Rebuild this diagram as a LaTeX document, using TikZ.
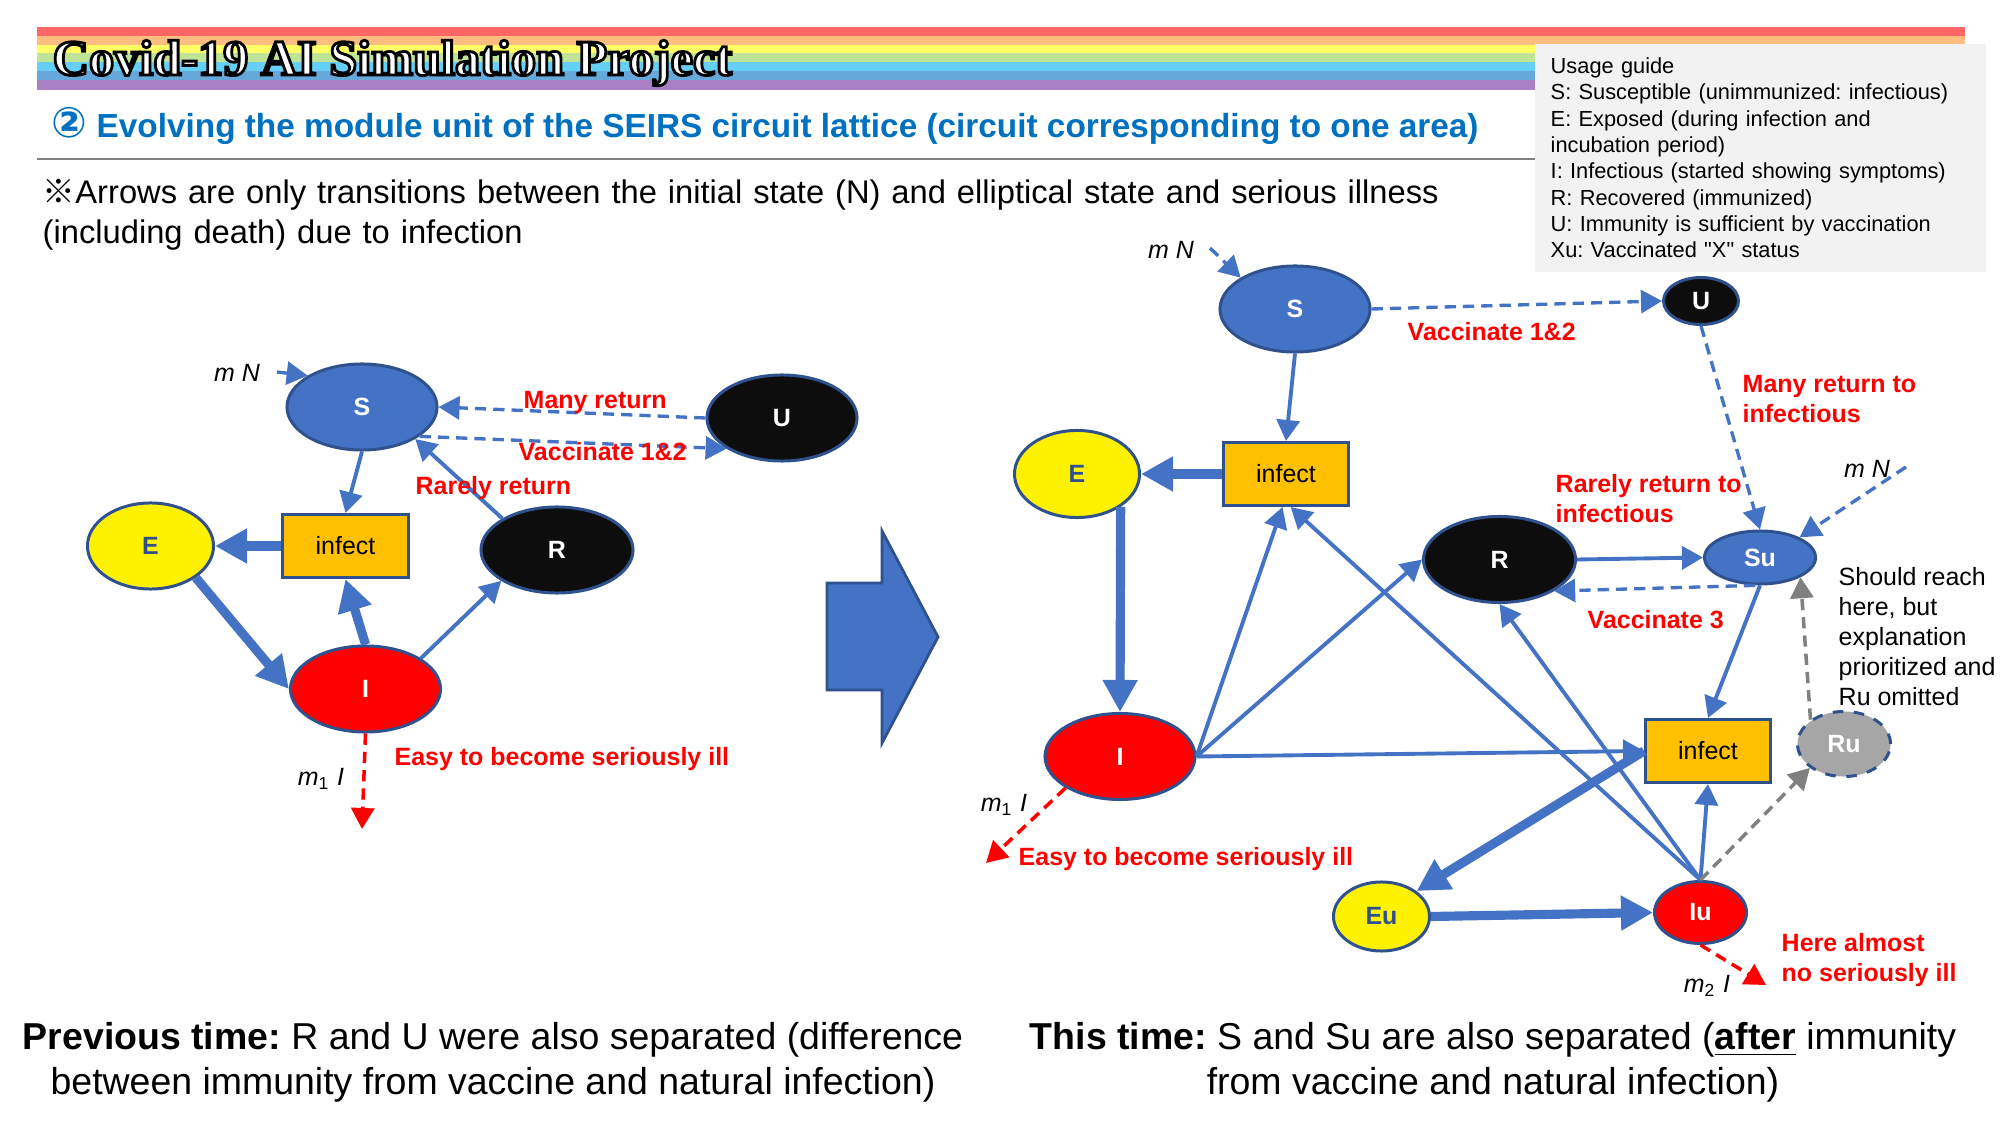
\documentclass[tikz,border=0pt]{standalone}
\usepackage{fontspec}
\setmainfont{Liberation Sans}
\newfontfamily\wordartfont{Liberation Serif}
\newfontfamily\guidefont{Liberation Sans}
\newfontfamily\symfont{DejaVu Sans}
\newfontfamily\cjkfont{Noto Sans CJK JP}
\usetikzlibrary{arrows.meta,shapes.geometric}
\definecolor{nodeEdge}{HTML}{2F528F}
\definecolor{flowBlue}{HTML}{4472C4}
\definecolor{infectBox}{HTML}{FFC000}
\definecolor{recBlack}{HTML}{0D0D0D}
\definecolor{ruGray}{HTML}{A6A6A6}
\definecolor{lineGray}{HTML}{808080}
\definecolor{titleBlue}{HTML}{0070C0}
\definecolor{guideBox}{HTML}{F2F2F2}
\definecolor{bowA}{HTML}{FF6666}
\definecolor{bowB}{HTML}{FFBE80}
\definecolor{bowC}{HTML}{FFFF66}
\definecolor{bowD}{HTML}{BFE397}
\definecolor{bowE}{HTML}{66CFF5}
\definecolor{bowF}{HTML}{66A8D9}
\definecolor{bowG}{HTML}{A980C4}
\newcommand{\fsz}[1]{\fontsize{#1pt}{1.2\dimexpr#1pt\relax}\selectfont}
\frenchspacing

\begin{document}
\begin{tikzpicture}[
  x=0.01cm, y=-0.01cm,
  >={Triangle[length=2.1mm,width=2.3mm]},
  state/.style={ellipse, draw=nodeEdge, fill=#1, line width=0.85pt, inner sep=0pt,
                font=\fsz{7.1}\bfseries, text=white},
  big/.style={minimum width=15mm, minimum height=8.6mm},
  infectbox/.style={rectangle, draw=nodeEdge, fill=infectBox, line width=0.85pt,
                    minimum width=12.5mm, minimum height=6.3mm, inner sep=0pt,
                    font=\fsz{7.1}},
  flow/.style={->, draw=flowBlue, line width=1.1pt},
  flowthick/.style={-{Triangle[length=3.2mm,width=3.3mm]}, draw=flowBlue, line width=2.6pt},
  flowdash/.style={->, draw=flowBlue, line width=0.95pt, dash pattern=on 3.2pt off 2pt},
  flowred/.style={->, draw=red, line width=1pt, dash pattern=on 3.2pt off 2pt},
  flowgray/.style={->, draw=lineGray, line width=1pt, dash pattern=on 3.2pt off 2pt},
  redlabel/.style={font=\fsz{7.1}\bfseries, text=red, anchor=west, align=left,
                   inner sep=0pt},
  ratelabel/.style={font=\fsz{7.1}\itshape, inner sep=0pt},
  caption/.style={font=\fsz{10.65}, align=center, inner sep=0pt}
]
\useasboundingbox (0,0) rectangle (2000,1125);

% ===== Header band =====================================================
\foreach \bowcol/\ytop/\ybot in {bowA/27/36, bowB/36/45, bowC/45/53, bowD/53/62,
                                 bowE/62/71, bowF/71/80, bowG/80/90}
  \fill[\bowcol] (37,\ytop) rectangle (1965,\ybot);
\node[anchor=west, inner sep=0pt, text=white,
      font=\wordartfont\bfseries\fsz{14.3}] (project) at (52,63)
  {\special{pdf:code 0 0 0 RG 2 Tr 0.8 w}Covid-19 AI Simulation Project\special{pdf:code 0 Tr}};
\node[anchor=west, inner sep=0pt, text=titleBlue, font=\fsz{9.48}\bfseries] (heading) at (51,126)
  {{\symfont\fsz{12}②} Evolving the module unit of the SEIRS circuit lattice (circuit corresponding to one area)};
\draw[lineGray, line width=0.6pt] (37,159) -- (1965,159);
\node[anchor=north west, inner sep=0pt, font=\fontsize{9.3pt}{11.2pt}\selectfont, align=left,
      text width=15.4cm] (remark) at (42,179)
  {{\cjkfont ※}Arrows are only transitions between the initial state (N) and elliptical state and serious illness\\
   (including death) due to infection};

% ===== Usage guide =====================================================
\node[anchor=north west, fill=guideBox, text width=41.9mm, minimum height=22.8mm,
      inner xsep=1.6mm, inner ysep=1.3mm, align=left, font=\guidefont\fontsize{6.2pt}{7.48pt}\selectfont] (guide) at (1534,43)
  {Usage guide\\
   S: Susceptible (unimmunized: infectious)\\
   E: Exposed (during infection and\\
   incubation period)\\
   I: Infectious (started showing symptoms)\\
   R: Recovered (immunized)\\
   U: Immunity is sufficient by vaccination\\
   Xu: Vaccinated "X" status};

% ===== Previous time ===================================================
\node[state=flowBlue, big] (sL) at (362,407) {S};
\node[state=recBlack, big] (uL) at (782,418) {U};
\node[state=yellow, minimum width=12.6mm, minimum height=8.6mm, text=nodeEdge] (eL) at (150.5,546) {E};
\node[infectbox] (infL) at (345.5,546) {infect};
\node[state=recBlack, minimum width=15.2mm, minimum height=8.6mm] (rL) at (557,550) {R};
\node[state=red, big] (iL) at (365.5,689) {I};
\coordinate (inL) at (277,372);
\coordinate (deadL) at (362,829);

\draw[flowdash] (inL) -- (sL.150);
\draw[flowdash] (uL.west) -- (sL.east);
\draw[flowdash] (sL.-27) -- (uL.209);
\draw[flow] (rL.150) -- (sL.-31);
\draw[flow] (sL.south) -- (infL.north);
\draw[flowthick] (infL.west) -- (eL.east);
\draw[flowthick] (eL.-35) -- (iL.west);
\draw[flowthick] (iL.north) -- (infL.south);
\draw[flow] (iL.29) -- (rL.209);
\draw[flowred] (iL.south) -- (deadL);

\node[ratelabel] (mnL) at (237,373) {m N};
\node[ratelabel] (moL) at (321,779) {m\textsubscript{\upshape 1} I};
\node[redlabel] (manyL) at (523,403) {Many return};
\node[redlabel] (vacL) at (518,452) {Vaccinate 1\&2};
\node[redlabel] (rareL) at (415,488.5) {Rarely return};
\node[redlabel] (easyL) at (394,759.5) {Easy to become seriously ill};

% ===== Block arrow between the two circuits ============================
\filldraw[fill=flowBlue, draw=nodeEdge, line width=0.8pt] (827,583) -- (882,583) -- (882,531)
  -- (938,637) -- (882,743) -- (882,690) -- (827,690) -- cycle;

% ===== This time =======================================================
\node[state=flowBlue, big] (sR) at (1295,309) {S};
\node[state=recBlack, minimum width=7.5mm, minimum height=4.7mm] (uR) at (1701,301) {U};
\node[state=yellow, minimum width=12.5mm, minimum height=8.7mm, text=nodeEdge] (eR) at (1077,474) {E};
\node[infectbox] (infA) at (1286,474) {infect};
\node[state=red, big] (iR) at (1120,756.5) {I};
\node[state=recBlack, minimum width=15.2mm, minimum height=8.6mm] (rR) at (1499.5,559.5) {R};
\node[state=flowBlue, minimum width=11.1mm, minimum height=5.3mm] (suR) at (1760,557.5) {Su};
\node[infectbox] (infB) at (1708,751) {infect};
\node[state=ruGray, minimum width=9.3mm, minimum height=6.5mm, dashed] (ruR) at (1844,744) {Ru};
\node[state=red, minimum width=9.2mm, minimum height=6.2mm] (iuR) at (1700.5,912.5) {Iu};
\node[state=yellow, minimum width=9.6mm, minimum height=6.9mm, text=nodeEdge] (euR) at (1381.5,916.5) {Eu};
\coordinate (inS) at (1210,248);
\coordinate (inSu) at (1906,467);
\coordinate (deadI) at (986,863);
\coordinate (deadIu) at (1766,985);

\draw[flowdash] (inS) -- (sR.150);
\draw[flowdash] (sR.east) -- (uR.west);
\draw[flow] (sR.south) -- (infA.north);
\draw[flowthick] (infA.west) -- (eR.east);
\draw[flowthick] (eR.-37) -- (iR.north);
\draw[flow] (iR.east) -- (infA.-96);
\draw[flow] (iR.east) -- (rR.west);
\draw[flow] (iR.east) -- (infB.west);
\draw[flowthick] (infB.west) -- (euR.36);
\draw[flowthick] (euR.east) -- (iuR.west);
\draw[flow] (iuR.north) -- (infA.-82);
\draw[flow] (iuR.north) -- (rR.south);
\draw[flow] (iuR.north) -- (infB.south);
\draw[flowgray] (iuR.north) -- (ruR.215);
\draw[flowgray] (ruR.144) -- (suR.-26);
\draw[flow] (suR.south) -- (infB.north);
\draw[flowdash] (uR.south) -- (suR.north);
\draw[flowdash] (inSu) -- (suR.27);
\draw[flow] (rR.east) -- (suR.west);
\draw[flowdash] (suR.-100) -- (rR.-30);
\draw[flowred] (iR.210) -- (deadI);
\draw[flowred] (iuR.south) -- (deadIu);

\node[ratelabel] (mnS) at (1171,250) {m N};
\node[ratelabel] (mnSu) at (1867,469) {m N};
\node[ratelabel] (moR) at (1004,805) {m\textsubscript{\upshape 1} I};
\node[ratelabel] (mtR) at (1707,986) {m\textsubscript{\upshape 2} I};
\node[redlabel] (vacR) at (1407,332) {Vaccinate 1\&2};
\node[redlabel] (manyR) at (1742,399) {Many return to\\infectious};
\node[redlabel] (rareR) at (1555,499) {Rarely return to\\infectious};
\node[redlabel] (vacThree) at (1587,620) {Vaccinate 3};
\node[redlabel] (easyR) at (1018,859) {Easy to become seriously ill};
\node[redlabel] (almost) at (1781,960.5) {Here almost\\no seriously ill};
\node[anchor=west, inner sep=0pt, align=left, font=\fontsize{7.1pt}{8.54pt}\selectfont] (reach) at (1838,637)
  {Should reach\\here, but\\explanation\\prioritized and\\Ru omitted};

% ===== Captions ========================================================
\node[caption] (prevcap) at (493,1062)
  {\textbf{Previous time:} R and U were also separated (difference\\
   between immunity from vaccine and natural infection)};
\node[caption] (thiscap) at (1493,1062)
  {\textbf{This time:} S and Su are also separated (\underline{\textbf{after}} immunity\\
   from vaccine and natural infection)};
\end{tikzpicture}
\end{document}
